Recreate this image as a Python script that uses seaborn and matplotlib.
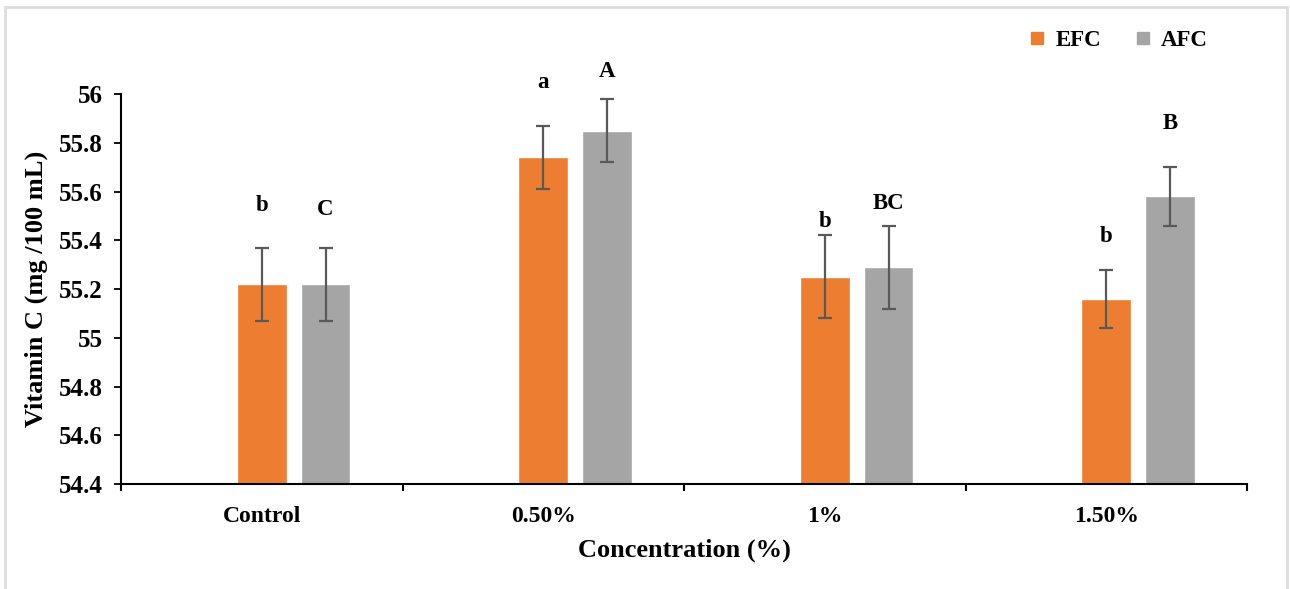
import matplotlib
matplotlib.use("Agg")
import matplotlib.pyplot as plt
import numpy as np
import pandas as pd
import seaborn as sns
from matplotlib.lines import Line2D
from matplotlib.patches import Rectangle

# Données
categories = ["Control", "0.50%", "1%", "1.50%"]
efc_mean = [55.22, 55.74, 55.25, 55.16]
efc_sd = [0.15, 0.13, 0.17, 0.12]
afc_mean = [55.22, 55.85, 55.29, 55.58]
afc_sd = [0.15, 0.13, 0.17, 0.12]
efc_letters = ["b", "a", "b", "b"]
afc_letters = ["C", "A", "BC", "B"]
y_ticks = [54.4, 54.6, 54.8, 55.0, 55.2, 55.4, 55.6, 55.8, 56.0]

ORANGE = "#ED7D31"
GREY = "#A5A5A5"
ERR = "#595959"

sns.set_style("ticks")
plt.rcParams["font.family"] = ["Liberation Serif", "DejaVu Serif"]
plt.rcParams["font.weight"] = "bold"
for k in ["text.color", "axes.labelcolor", "xtick.color", "ytick.color"]:
    plt.rcParams[k] = "black"

df = pd.DataFrame({
    "conc": categories * 2,
    "serie": ["EFC"] * 4 + ["AFC"] * 4,
    "vitc": efc_mean + afc_mean,
})

fig = plt.figure(figsize=(12.9, 5.89), dpi=100)
ax = fig.add_axes([121 / 1290, 1 - 484 / 589, (1247 - 121) / 1290, (484 - 94) / 589])

# série vide en tête, comme dans le graphique Excel d'origine (décale les barres)
sns.barplot(data=df, x="conc", y="vitc", hue="serie", order=categories,
            hue_order=["_vide", "EFC", "AFC"],
            palette={"_vide": "white", "EFC": ORANGE, "AFC": GREY},
            width=0.68, gap=0.22, errorbar=None, legend=False, ax=ax,
            saturation=1)

ax.set_ylim(54.4, 56.0)
ax.set_xlim(-0.5, len(categories) - 0.5)

# barres d'erreur + lettres de significativité
pads_px = {"EFC": [32, 33, 3, 23], "AFC": [28, 17, 12, 33]}
series = {"EFC": (efc_mean, efc_sd, efc_letters), "AFC": (afc_mean, afc_sd, afc_letters)}
containers = [c for c in ax.containers if len(c) > 0]
for cont, name in zip(containers, ["EFC", "AFC"]):
    means, sds, letters = series[name]
    xs = [b.get_x() + b.get_width() / 2 for b in cont]
    ax.errorbar(xs, means, yerr=sds, fmt="none", ecolor=ERR, elinewidth=1.6,
                capsize=5, capthick=1.6, zorder=3)
    for x, m, s, lab, p in zip(xs, means, sds, letters, pads_px[name]):
        ax.annotate(lab, (x, m + s), xytext=(0, p * 0.72), textcoords="offset points",
                    ha="center", va="bottom", fontsize=16.5, fontweight="bold")

ax.set_yticks(y_ticks)
ax.set_yticklabels([f"{v:g}" for v in y_ticks])
ax.set_xticks(range(len(categories)))
ax.set_xticklabels(categories)
ax.set_xticks(np.arange(-0.5, len(categories), 1.0), minor=True)
ax.tick_params(axis="x", which="major", length=0, pad=16, labelsize=17)
ax.tick_params(axis="x", which="minor", length=5, width=1.5, direction="out", color="black")
ax.tick_params(axis="y", length=5, width=1.3, labelsize=18, pad=8)

ax.set_xlabel("Concentration (%)", fontsize=19, fontweight="bold", labelpad=8)
ax.set_ylabel("Vitamin C (mg /100 mL)", fontsize=19, fontweight="bold", labelpad=8)

sns.despine(ax=ax)
for s in ["left", "bottom"]:
    ax.spines[s].set_linewidth(1.5)
    ax.spines[s].set_color("black")

handles = [Line2D([], [], marker="s", color="none", markerfacecolor=c, markeredgecolor=c,
                  markersize=9) for c in [ORANGE, GREY]]
fig.legend(handles, ["EFC", "AFC"], loc="center", bbox_to_anchor=(1118 / 1290, 1 - 40 / 589),
           ncol=2, frameon=False, handlelength=0.8, handletextpad=0.4, columnspacing=1.4,
           prop={"size": 16.5, "weight": "bold"})

# cadre gris clair autour de la figure
fig.patches.append(Rectangle((5 / 1290, -0.02), 1282 / 1290, 1.02 - 7 / 589,
                             transform=fig.transFigure, fill=False,
                             edgecolor="#DDDDDD", linewidth=2))

fig.savefig("out.png", dpi=100)
plt.close(fig)
